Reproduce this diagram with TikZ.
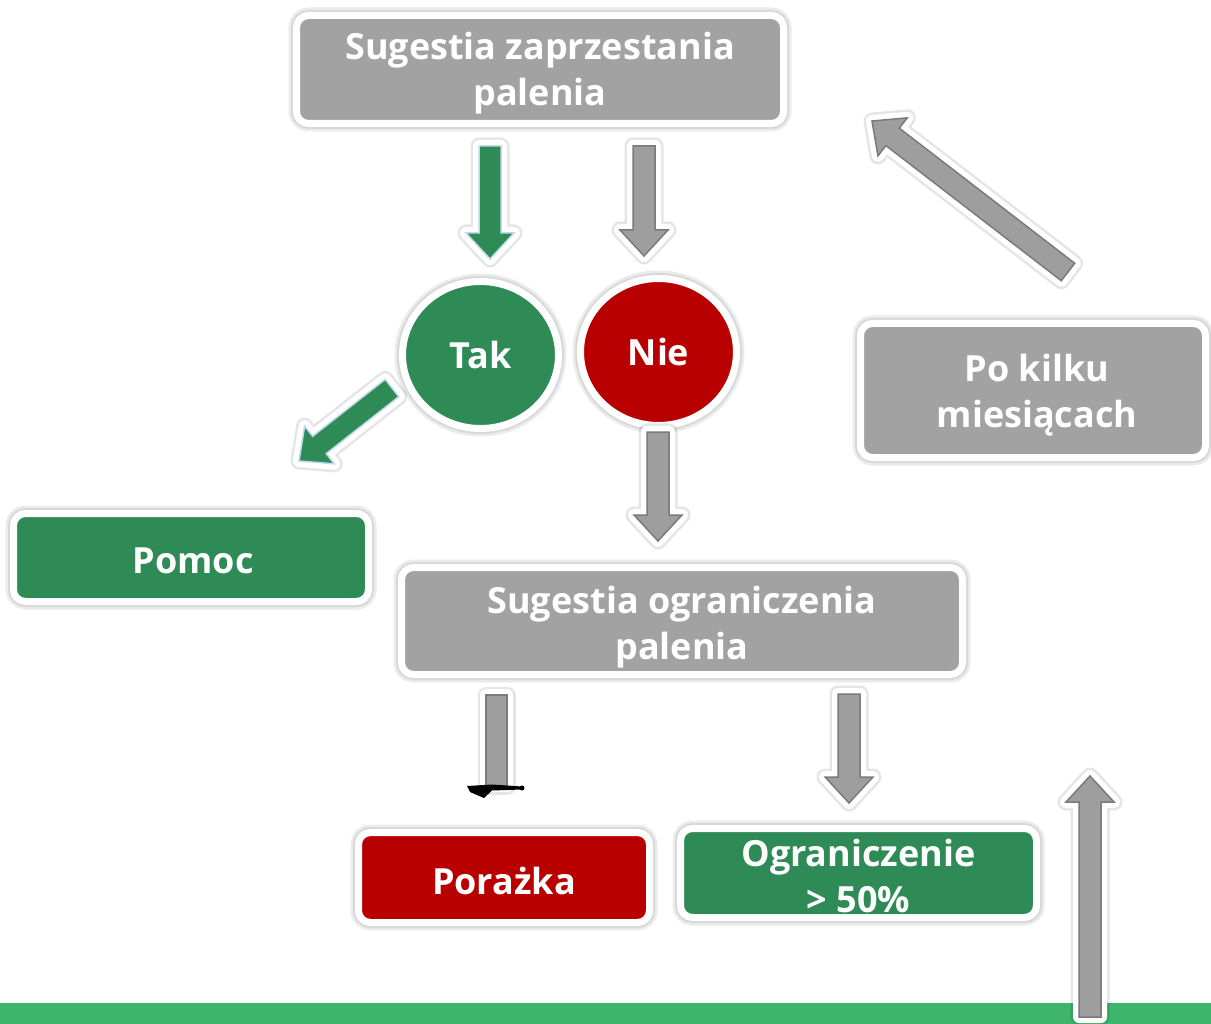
\documentclass[tikz,border=0pt]{standalone}
\usepackage{fontspec}
\setmainfont{Open Sans}
\usetikzlibrary{calc,shapes.geometric}
\definecolor{boxgray}{HTML}{A2A2A2}
\definecolor{boxgreen}{HTML}{2E8B55}
\definecolor{boxred}{HTML}{B80000}
\definecolor{bargreen}{HTML}{3DB56B}
\definecolor{arrgray}{HTML}{9E9E9E}
\definecolor{arrgraydk}{HTML}{7A7A7A}
\definecolor{arrgreenedge}{HTML}{C3D8EE}
\newcommand\blockarr[3]{%
  \coordinate (#1-#2-n) at ($(#2)!26pt!(#1)$);
  \draw[#3] ($(#1)!11pt!90:(#2)$) -- ($(#1-#2-n)!11pt!90:(#2)$) -- ($(#1-#2-n)!24pt!90:(#2)$)
    -- (#2) -- ($(#1-#2-n)!24pt!-90:(#2)$) -- ($(#1-#2-n)!11pt!-90:(#2)$) -- ($(#1)!11pt!-90:(#2)$) -- cycle;
}
\begin{document}
\begin{tikzpicture}[x=1pt,y=-1pt,
  halo/.style={preaction={draw=black,opacity=0.08,line width=16pt},preaction={draw=black,opacity=0.08,line width=11pt}},
  txt/.style={text=white, font=\bfseries\fontsize{36}{46}\selectfont, align=center, inner sep=0pt},
  box/.style={draw=white, line width=7pt, rounded corners=12pt, halo, inner sep=0pt},
  graybox/.style={box, fill=boxgray},
  greenbox/.style={box, fill=boxgreen},
  redbox/.style={box, fill=boxred},
  disc/.style={ellipse, draw=white, line width=7pt, text=white, halo,
    font=\bfseries\fontsize{36}{46}\selectfont, inner sep=0pt, minimum width=156pt, minimum height=147pt},
  arrbase/.style={line width=1.5pt, line join=miter,
    preaction={draw=black,opacity=0.10,line width=17pt,line join=round},
    preaction={draw=white,line width=12pt,line join=round}},
  garrow/.style={arrbase, fill=boxgreen, draw=arrgreenedge},
  grarrow/.style={arrbase, fill=arrgray, draw=arrgraydk}
]
\useasboundingbox (0,0) rectangle (1211,1024);
\fill[white] (0,0) rectangle (1211,1024);
\fill[bargreen] (0,1003) rectangle (1211,1024);

% nodes
\node[graybox, minimum width=487pt, minimum height=108pt,
  label={[txt,yshift=-4pt]center:Sugestia zaprzestania\\palenia}] (top) at (540,69.5) {};
\node[disc, fill=boxgreen] (tak) at (480.5,355) {Tak};
\node[disc, fill=boxred] (nie) at (658.5,352) {Nie};
\node[graybox, minimum width=345pt, minimum height=134pt,
  label={[txt,yshift=-5pt,xshift=4pt]center:Po kilku\\miesiącach}] (po) at (1033,390.5) {};
\node[greenbox, minimum width=355pt, minimum height=88pt,
  label={[txt,yshift=-3pt,xshift=2pt]center:Pomoc}] (pomoc) at (191,557.5) {};
\node[graybox, minimum width=561pt, minimum height=107pt,
  label={[txt,yshift=-6pt]center:Sugestia ograniczenia\\palenia}] (ogr) at (682,621) {};
\node[redbox, minimum width=291pt, minimum height=90pt,
  label={[txt,yshift=-3pt]center:Porażka}] (por) at (504,877.5) {};
\node[greenbox, minimum width=356pt, minimum height=89pt,
  label={[txt,yshift=-3pt]center:Ograniczenie\\> 50\%}] (ogr50) at (858.5,873) {};

% arrow end points
\coordinate (a1s) at (490,146); \coordinate (a1e) at (490,259);
\coordinate (a2s) at (644,146); \coordinate (a2e) at (644,256);
\coordinate (a3s) at (392,388); \coordinate (a3e) at (299,461);
\coordinate (a4s) at (658,432); \coordinate (a4e) at (658,541);
\coordinate (a6s) at (849,694); \coordinate (a6e) at (849,803);
\coordinate (a7s) at (1090,1017); \coordinate (a7e) at (1090,776);
\coordinate (a8s) at (1068,272); \coordinate (a8e) at (872,121);

\blockarr{a1s}{a1e}{garrow}
\blockarr{a2s}{a2e}{grarrow}
\blockarr{a3s}{a3e}{garrow}
\blockarr{a4s}{a4e}{grarrow}
\blockarr{a6s}{a6e}{grarrow}
\blockarr{a7s}{a7e}{grarrow}
\blockarr{a8s}{a8e}{grarrow}

% broken arrow (shaft only) with rendering glitch
\draw[grarrow] (486,695) rectangle (507,786);
\fill[black] (467,786) -- (492,784.5) -- (522,786.5) -- (522,789.5) -- (492,790.5) -- (484,798) -- (470,792) -- cycle;
\fill[black] (522,788) circle (2.5pt);
\end{tikzpicture}
\end{document}
